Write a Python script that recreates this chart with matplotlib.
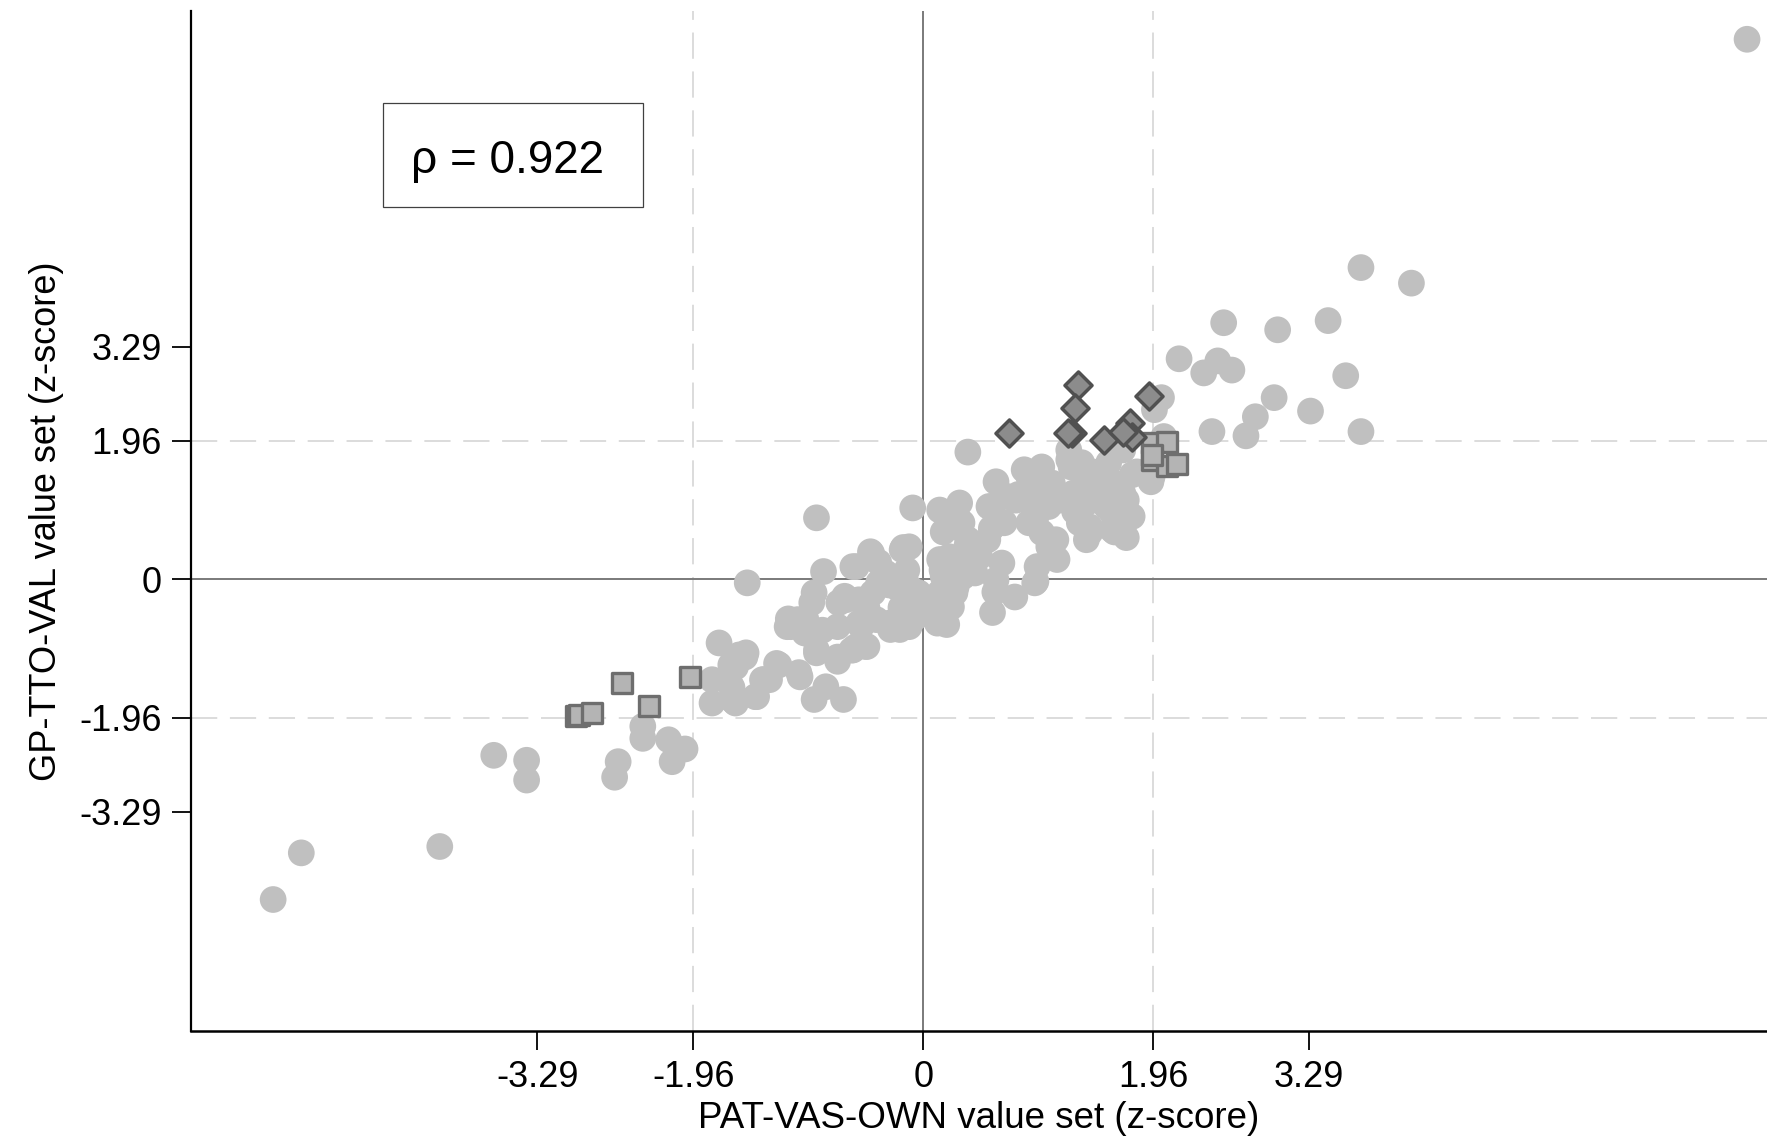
import matplotlib
matplotlib.use("Agg")
import matplotlib.pyplot as plt
from matplotlib.patches import Rectangle

plt.rcParams['font.family'] = ['Liberation Sans', 'DejaVu Sans']

# grey circles: all health states
circle_x = [
    -5.54, -5.30, -4.12, -3.66, -3.38, -3.38, -2.60, -2.63, -2.39, -2.39, -2.17, -2.03, -2.14,
    -1.80, -1.80, -1.63, -1.51, -1.63, -1.42, -1.25, -1.31, -1.74, -1.64, -1.57, -1.63, -1.61,
    -1.37, -1.23, -1.06, -1.05, -1.36, -1.43, -1.60, -1.65, -1.52, -1.60,
    -1.50, -0.91, -0.93, -0.68, -0.83, 0.38,
    -0.09, -0.17, -0.85, -0.45, -0.60, -0.32, -0.93, -0.66, -0.43, -0.18, -0.11, -1.13, -1.01,
    -0.95, -0.73, -0.53, -0.28, -0.20, -0.49, -0.60, -0.73, -0.91, -1.16, -1.07, -1.00, -0.91,
    -0.73, -0.61, -0.48, -0.57, -0.44, -0.18, -0.72, -0.55, -0.38, -0.23, -0.09, -0.06, -0.29,
    -0.40, -0.55, 0.12, 0.05, 0.03, -0.04,
    -0.48, -0.29, -0.67, -0.38, -0.19, -0.86, -1.15, -0.58, 0.29, 0.14,
    0.14, 0.31, 0.17, 0.29, 0.38, 0.59, 0.62, 0.86, 1.01, 0.97, 0.72, 0.90, 1.07, 0.69, 0.90,
    1.01, 1.13, 1.14, 0.97, 0.67, 0.48, 0.55, 0.24, 0.14, 0.17, 0.34, 0.44, 0.62, 0.95, 0.78,
    0.59, 0.27, 0.24, 0.17, 0.33, 0.90, 0.56, 0.79, 1.10, 0.96, 0.61, 0.37, 0.22, 0.16, -0.12,
    -0.14, -0.12, 0.14, 0.28, 0.08, 0.20, -0.12, 1.07, 1.16,
    0.96, 1.29, 1.63, 1.10, 1.44, 0.81, 0.58, 0.38,
    1.24, 1.35, 1.42, 1.53, 1.28, 1.39, 1.59, 1.73, 1.76, 1.63, 1.33, 1.42, 1.63, 1.73, 1.82,
    1.94, 1.24, 1.70, 1.58, 1.39, 1.56, 1.70, 1.78, 1.61, 1.61, 1.50, 1.26, 1.70, 1.78, 1.70,
    1.42, 1.39, 1.01, 1.56, 1.73, 1.95, 2.05, 1.97,
    2.18, 2.39, 2.51, 2.63, 2.56, 3.02, 3.45, 3.73, 4.16, 3.60, 2.99, 2.83, 3.30, 2.46, 2.75,
    3.73, 2.03, 7.02,
]
circle_y = [
    -4.53, -3.87, -3.78, -2.49, -2.56, -2.84, -2.58, -2.80, -2.08, -2.25, -2.27, -2.40, -2.58,
    -1.75, -1.42, -1.24, -1.04, -1.70, -1.66, -1.19, -1.42, -0.90, -1.21, -1.07, -1.53, -1.73,
    -1.42, -1.21, -1.32, -1.38, -1.42, -1.66, -1.75, -1.47, -1.10, -1.24,
    -0.05, 0.87, -1.70, -1.70, -1.52, 1.80,
    1.01, 0.45, 0.11, 0.39, 0.18, 0.09, -0.19, -0.29, -0.19, -0.15, -0.39, -0.67, -0.76,
    -0.33, -0.67, -0.67, -0.71, -0.71, -0.95, -1.00, -1.16, -1.04, -0.67, -0.57, -0.57, -1.00,
    -1.10, -1.00, -0.95, 0.18, 0.37, 0.42, -0.33, -0.29, -0.05, -0.11, -0.19, -0.53, -0.62,
    -0.57, -0.62, -0.62, -0.33, -0.29, -0.19,
    -0.40, -0.08, -0.24, 0.24, -0.40, -0.72, -0.56, -0.96, 0.16, -0.24,
    0.98, 1.08, 0.67, 0.74, 0.56, 1.03, 1.38, 1.55, 1.59, 1.31, 1.17, 1.12, 1.03, 0.80, 0.80,
    0.66, 0.56, 0.28, 0.18, 0.23, 0.32, 0.56, 0.28, 0.28, 0.04, 0.04, 0.09, -0.01, -0.05, -0.25,
    -0.47, -0.19, -0.39, -0.62, 0.80, 1.45, 1.03, 1.12, 0.52, -0.03, -0.18, 0.46, 0.32, 0.13, 0.46,
    0.13, -0.11, -0.19, -0.11, -0.43, -0.64, -0.67, 0.46, 1.12,
    0.88, 0.96, 1.36, 1.36, 1.52, 1.20, 0.72, 0.56,
    1.69, 1.65, 1.45, 1.41, 1.22, 1.08, 1.22, 1.12, 0.89, 0.89, 0.80, 0.66, 0.67, 0.59, 1.52,
    1.38, 1.83, 1.83, 1.65, 1.45, 1.36, 1.17, 1.48, 0.70, 0.94, 1.17, 1.59, 1.22, 0.89, 0.66,
    0.74, 0.56, 1.36, 1.03, 0.94, 1.45, 2.02, 2.40,
    3.12, 2.92, 3.09, 2.96, 3.63, 3.53, 3.66, 4.41, 4.19, 2.88, 2.57, 2.30, 2.38, 2.09, 2.03,
    2.09, 2.57, 7.64,
]

# squares
square_x = [1.95, 2.08, 1.95, 2.08, 2.16, 1.95, -2.57, -2.34, -1.99, -2.96, -2.93, -2.82]
square_y = [1.93, 1.94, 1.69, 1.61, 1.63, 1.76, -1.46, -1.79, -1.38, -1.94, -1.92, -1.89]

# diamonds
diamond_x = [1.32, 1.29, 1.27, 1.23, 0.73, 1.54, 1.76, 1.78, 1.70, 1.92]
diamond_y = [2.75, 2.43, 2.07, 2.07, 2.07, 1.97, 2.21, 2.02, 2.09, 2.60]

ticks = [-3.29, -1.96, 0, 1.96, 3.29]
tick_labels = ["-3.29", "-1.96", "0", "1.96", "3.29"]
rho_text = "\u03c1 = 0.922"

fig = plt.figure(figsize=(17.67, 11.45), dpi=100)
ax = fig.add_axes([191 / 1767, 114 / 1145, 1 - 191 / 1767, 1020 / 1145])

ax.set_xlim(-6.24, 7.19)
ax.set_ylim(-6.39, 8.04)

# reference lines
for v in [-1.96, 1.96]:
    ax.axvline(v, color="#dcdcdc", lw=1.4, dashes=(13.5, 6.5), zorder=1)
    ax.axhline(v, color="#dcdcdc", lw=1.4, dashes=(13.5, 6.5), zorder=1)
ax.axvline(0, color="#7a7a7a", lw=1.4, zorder=1.5)
ax.axhline(0, color="#7a7a7a", lw=1.4, zorder=1.5)

ax.scatter(circle_x, circle_y, s=370, color="#c0c0c0", edgecolors="none", zorder=2)
ax.scatter(square_x, square_y, marker="s", s=220, facecolor="#b4b4b4",
           edgecolors="#6e6e6e", linewidths=2.4, zorder=3)
ax.scatter(diamond_x, diamond_y, marker="D", s=190, facecolor="#8c8c8c",
           edgecolors="#505050", linewidths=2.5, zorder=4)

ax.set_xticks(ticks)
ax.set_xticklabels(tick_labels)
ax.set_yticks(ticks)
ax.set_yticklabels(tick_labels)
ax.tick_params(axis="both", direction="out", length=14, width=1.3, labelsize=26, color="black")
ax.tick_params(axis="x", pad=7)
ax.tick_params(axis="y", pad=7)

for side in ["top", "right"]:
    ax.spines[side].set_visible(False)
ax.spines["left"].set_linewidth(1.6)
ax.spines["bottom"].set_linewidth(1.8)

ax.set_xlabel("PAT-VAS-OWN value set (z-score)", fontsize=26.5, labelpad=4)
ax.set_ylabel("GP-TTO-VAL value set (z-score)", fontsize=26, labelpad=11)

fig.patches.append(Rectangle((383 / 1767, 1 - 207 / 1145), 260 / 1767, 104 / 1145,
                             transform=fig.transFigure, facecolor="white",
                             edgecolor="#404040", lw=0.9, zorder=5))
fig.text(507 / 1767, 1 - 173 / 1145, rho_text, fontsize=33, ha="center",
         va="baseline", zorder=6)

fig.savefig("out.png", dpi=100)
